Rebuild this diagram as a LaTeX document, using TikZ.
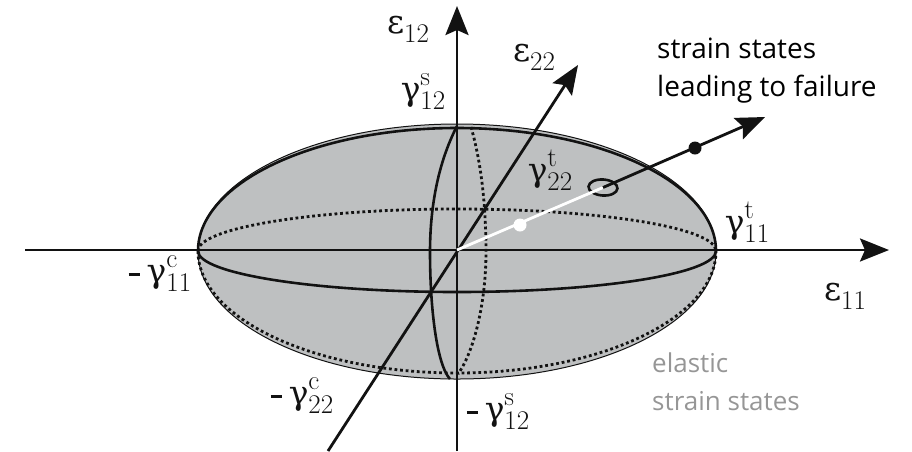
\documentclass[tikz,border=0pt]{standalone}
\usepackage{fontspec}
\setsansfont{Open Sans}
\newfontfamily\greekserif{DejaVu Serif}
\usetikzlibrary{arrows.meta,shapes.geometric}
\definecolor{fillgrey}{RGB}{190,192,193}
\definecolor{inkblack}{RGB}{18,18,18}
\definecolor{softgrey}{RGB}{150,150,150}
\newcommand{\subf}{\rmfamily\fontsize{27}{27}\selectfont}
\newcommand{\gam}[2]{{\greekserif\fontsize{33}{36}\selectfont γ}\rlap{\raisebox{15pt}{\subf #1}}\raisebox{-9pt}{\subf #2}}
\newcommand{\eps}[1]{{\greekserif\fontsize{33}{36}\selectfont ε}\raisebox{-9pt}{\subf #1}}
\newcommand{\minussign}{\rule[7pt]{11pt}{3pt}\hspace{7pt}}
\tikzset{
  axisline/.style={draw=inkblack,line width=2.8pt,-{Stealth[length=29pt,width=23pt,inset=5pt]}},
  curveline/.style={draw=inkblack,line width=2.6pt},
  dotline/.style={draw=inkblack,line width=2.8pt,dash pattern=on 2.8pt off 2.8pt},
  sym/.style={font=\rmfamily\fontsize{34}{36}\selectfont,text=inkblack,inner sep=0pt},
  capt/.style={font=\sffamily\fontsize{28}{38}\selectfont,align=left,inner sep=0pt,anchor=north west},
  bead/.style={circle,fill=#1,inner sep=0pt,minimum size=13pt},
}
\begin{document}
\begin{tikzpicture}[x=1pt,y=-1pt]
\useasboundingbox (0,0) rectangle (912,451);
\coordinate (O) at (457,250);
% body
\fill[fillgrey] (457,251.5) ellipse [x radius=259,y radius=127.5];
\draw[draw=inkblack,line width=1pt] (457,251.5) ellipse [x radius=259,y radius=127.5];
% outer top thick arc and lower dotted arc
\draw[curveline] (198,251) arc [start angle=180,end angle=360,x radius=259,y radius=123];
\draw[dotline] (198,251) arc [start angle=180,end angle=0,x radius=259,y radius=122];
% equator
\draw[curveline] (198,251) arc [start angle=180,end angle=0,x radius=259,y radius=41];
\draw[dotline] (198,251) arc [start angle=180,end angle=360,x radius=259,y radius=42];
% meridian
\draw[curveline] (457,126) .. controls (437,165) and (430,210) .. (430,252) .. controls (430,310) and (437,365) .. (450,379);
\draw[dotline] (471,127) .. controls (482,165) and (486,210) .. (486,252) .. controls (486,300) and (475,350) .. (458,374);
% axes
\coordinate (xs) at (25,250); \coordinate (xe) at (889,250);
\coordinate (ys) at (457,451); \coordinate (ye) at (457,6);
\coordinate (zs) at (328,451); \coordinate (ze) at (578,65);
\draw[axisline] (xs) -- (xe);
\draw[axisline] (ys) -- (ye);
\draw[axisline] (zs) -- (ze);
% strain path
\node[draw=inkblack,line width=2.6pt,ellipse,minimum width=29pt,minimum height=16pt,inner sep=0pt,rotate=-4] (ring) at (603,187.5) {};
\node[bead=white] (wd) at (520,225) {};
\node[bead=inkblack] (bd) at (695,148) {};
\coordinate (tip) at (765,117);
\draw[white,line width=2.8pt] (O) -- (ring.center);
\draw[axisline] (ring.center) -- (tip);
% labels
\node[sym] (e12) at (408,29) {\eps{12}};
\node[sym] (e22) at (534,57) {\eps{22}};
\node[sym] (e11) at (845,296) {\eps{11}};
\node[sym] (gs12) at (423,92) {\gam{s}{12}};
\node[sym] (gt22) at (550,170) {\gam{t}{22}};
\node[sym] (gt11) at (747,222) {\gam{t}{11}};
\node[sym] (gc11) at (160,274) {\minussign\gam{c}{11}};
\node[sym] (gc22) at (302,396) {\minussign\gam{c}{22}};
\node[sym] (gn12) at (498,412) {\minussign\gam{s}{12}};
\node[capt] (fail) at (657,38) {strain states\\leading to failure};
\node[capt,text=softgrey,font=\sffamily\fontsize{26}{38}\selectfont] (elas) at (652,353) {elastic\\strain states};
\end{tikzpicture}
\end{document}
